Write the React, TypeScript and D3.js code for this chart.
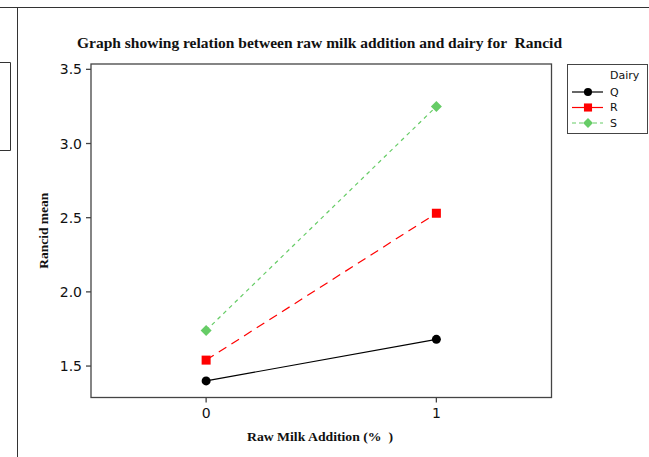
import React from "react";
import * as d3 from "d3";

const xValues = [0, 1];
const seriesNames = ["Q", "R", "S"];
const qValues = [1.4, 1.68];
const rValues = [1.54, 2.53];
const sValues = [1.74, 3.25];
const yTicks = [1.5, 2.0, 2.5, 3.0, 3.5];
const xTicks = [0, 1];

const W = 649;
const H = 457;
const plot = { left: 91, top: 64, right: 551.5, bottom: 397.5 };

export default function App() {
  const x = d3.scaleLinear().domain([-0.5, 1.5]).range([plot.left, plot.right]);
  const y = d3.scaleLinear().domain([1.288, 3.536]).range([plot.bottom, plot.top]);
  const line = d3
    .line<number>()
    .x((_, i) => x(xValues[i]))
    .y((d) => y(d));

  const series = [
    { name: seriesNames[0], values: qValues, color: "#000000", dash: "", legDash: "", marker: "circle" },
    { name: seriesNames[1], values: rValues, color: "#ff0000", dash: "9,6", legDash: "", marker: "square" },
    { name: seriesNames[2], values: sValues, color: "#66cc66", dash: "4,4", legDash: "4,3", marker: "diamond" },
  ];

  const marker = (kind: string, cx: number, cy: number, color: string, key: string, s = 1) => {
    if (kind === "circle") return <circle key={key} cx={cx} cy={cy} r={4.5 * s} fill={color} />;
    if (kind === "square")
      return <rect key={key} x={cx - 4.5 * s} y={cy - 4.5 * s} width={9 * s} height={9 * s} fill={color} />;
    const r = 5.5 * s;
    return (
      <path key={key} d={`M${cx},${cy - r}L${cx + r},${cy}L${cx},${cy + r}L${cx - r},${cy}Z`} fill={color} />
    );
  };

  const serif = "'Liberation Serif', 'Times New Roman', serif";
  const sans = "'DejaVu Sans', Verdana, sans-serif";
  const axisColor = "#444";

  return (
    <svg width={W} height={H} style={{ position: "absolute", left: 0, top: 0, background: "#fff" }}>
      <rect x={0} y={0} width={W} height={H} fill="#fff" />
      {/* frame remnants */}
      <line x1={0} y1={7.5} x2={W} y2={7.5} stroke="#333" strokeWidth={1} />
      <line x1={17.5} y1={7.5} x2={17.5} y2={H} stroke="#333" strokeWidth={1} />
      <path d="M0,62.5H10.5V150.5H0" fill="none" stroke="#333" strokeWidth={1} />

      {/* title */}
      <text
        x={77}
        y={48}
        textLength={485}
        lengthAdjust="spacing"
        fontFamily={serif}
        fontWeight="bold"
        fontSize={15.5}
        fill="#111"
        style={{ whiteSpace: "pre" }}
      >
        {"Graph showing relation between raw milk addition and dairy for  Rancid"}
      </text>

      {/* plot frame */}
      <rect
        x={plot.left}
        y={plot.top}
        width={plot.right - plot.left}
        height={plot.bottom - plot.top}
        fill="none"
        stroke={axisColor}
        strokeWidth={1.3}
      />

      {/* y ticks */}
      {yTicks.map((t) => (
        <g key={"y" + t}>
          <line x1={plot.left - 5} x2={plot.left} y1={y(t)} y2={y(t)} stroke={axisColor} strokeWidth={1.3} />
          <text
            x={plot.left - 9}
            y={y(t)}
            dy="0.36em"
            textAnchor="end"
            fontFamily={sans}
            fontSize={14}
            fill="#111"
          >
            {d3.format(".1f")(t)}
          </text>
        </g>
      ))}

      {/* x ticks */}
      {xTicks.map((t) => (
        <g key={"x" + t}>
          <line x1={x(t)} x2={x(t)} y1={plot.bottom} y2={plot.bottom + 5} stroke={axisColor} strokeWidth={1.3} />
          <text x={x(t)} y={plot.bottom + 20} textAnchor="middle" fontFamily={sans} fontSize={14} fill="#111">
            {t}
          </text>
        </g>
      ))}

      {/* axis labels */}
      <text
        x={247}
        y={441}
        textLength={146}
        lengthAdjust="spacingAndGlyphs"
        fontFamily={serif}
        fontWeight="bold"
        fontSize={13}
        fill="#111"
        style={{ whiteSpace: "pre" }}
      >
        {"Raw Milk Addition (%  )"}
      </text>
      <text
        transform={`translate(48, ${(plot.top + plot.bottom) / 2}) rotate(-90)`}
        textAnchor="middle"
        fontFamily={serif}
        fontWeight="bold"
        fontSize={13.5}
        fill="#111"
      >
        Rancid mean
      </text>

      {/* series */}
      {series.map((s) => (
        <g key={s.name}>
          <path d={line(s.values) || ""} fill="none" stroke={s.color} strokeWidth={1.2} strokeDasharray={s.dash} />
          {s.values.map((v, i) => marker(s.marker, x(xValues[i]), y(v), s.color, s.name + i))}
        </g>
      ))}

      {/* legend */}
      <rect x={567.5} y={64.5} width={80} height={69} fill="#fff" stroke={axisColor} strokeWidth={1} />
      <text x={610} y={79} fontFamily={sans} fontSize={11} fill="#111">
        Dairy
      </text>
      {series.map((s, i) => {
        const ly = 92 + i * 15.5;
        return (
          <g key={"leg" + s.name}>
            <line x1={572} x2={603} y1={ly} y2={ly} stroke={s.color} strokeWidth={1.2} strokeDasharray={s.legDash} />
            {marker(s.marker, 588, ly, s.color, "lm" + s.name, 0.9)}
            <text x={610} y={ly} dy="0.36em" fontFamily={sans} fontSize={11} fill="#111">
              {s.name}
            </text>
          </g>
        );
      })}
    </svg>
  );
}
